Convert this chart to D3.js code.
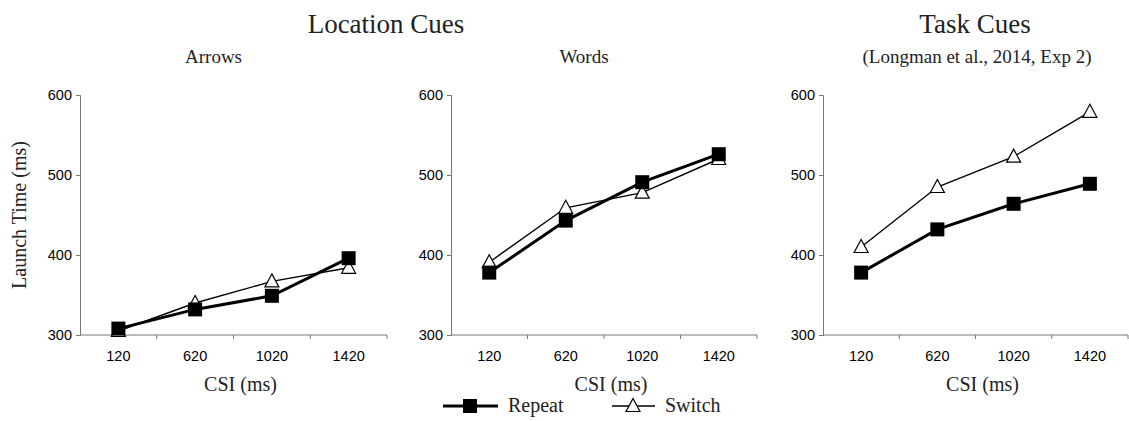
<!DOCTYPE html>
<html><head><meta charset="utf-8">
<script src="https://cdn.jsdelivr.net/npm/d3@7"></script>
<style>body{margin:0;background:#fff}</style>
</head><body>
<svg id="c" width="1129" height="421"></svg>
<script>
const categories = ["120","620","1020","1420"];
const yTicks = [300,400,500,600];
const panelNames = ["Arrows","Words","(Longman et al., 2014, Exp 2)"];
const arrowsRepeat = [308,332,349,396];
const arrowsSwitch = [305,340,367,384];
const wordsRepeat = [378,443,491,526];
const wordsSwitch = [391,459,478,520];
const taskRepeat = [378,432,464,489];
const taskSwitch = [410,485,523,579];
const seriesNames = ["Repeat","Switch"];

const panels = [
  {x0:80, x1:387, sub:panelNames[0], rep:arrowsRepeat, sw:arrowsSwitch},
  {x0:451, x1:757, sub:panelNames[1], rep:wordsRepeat, sw:wordsSwitch},
  {x0:823, x1:1128, sub:panelNames[2], rep:taskRepeat, sw:taskSwitch}
];
const svg = d3.select("#c");
const serif = "'Liberation Serif','Times New Roman',serif";
const sans = "'Liberation Sans',Arial,sans-serif";
const y = d3.scaleLinear().domain([300,600]).range([335,95]);

const triPath = "M0,-7.5L7,5.5L-7,5.5Z";

panels.forEach((p,i)=>{
  const x = d3.scaleBand().domain(categories).range([p.x0,p.x1]);
  const g = svg.append("g");
  // y axis
  const ya = g.append("g").attr("transform",`translate(${p.x0},0)`)
    .call(d3.axisLeft(y).tickValues(yTicks).tickSize(4).tickPadding(4));
  ya.attr("font-size",14.5).attr("font-family",sans);
  ya.select(".domain").attr("stroke","#777");
  ya.selectAll(".tick line").attr("stroke","#777");
  ya.selectAll("text").attr("fill","#000");
  // x axis
  const xa = g.append("g").attr("transform",`translate(0,${y(300)})`)
    .call(d3.axisBottom(x).tickSize(0).tickPadding(16));
  xa.attr("font-size",14.5).attr("font-family",sans);
  xa.select(".domain").attr("d",`M${p.x0},0H${p.x1}`).attr("stroke","#777");
  xa.selectAll("text").attr("fill","#000");
  // between-band ticks
  const bounds = categories.map(c=>x(c)).slice(1).concat([p.x1]);
  g.selectAll(".bt").data(bounds).enter().append("line")
    .attr("x1",d=>d).attr("x2",d=>d).attr("y1",y(300)).attr("y2",y(300)+4)
    .attr("stroke","#777");
  const cx = c=>x(c)+x.bandwidth()/2;
  const line = d3.line().x((d,j)=>cx(categories[j])).y(d=>y(d));
  // switch
  g.append("path").attr("d",line(p.sw)).attr("fill","none").attr("stroke","#000").attr("stroke-width",1.4);
  g.selectAll(".tri").data(p.sw).enter().append("path")
    .attr("d",triPath).attr("transform",(d,j)=>`translate(${cx(categories[j])},${y(d)})`)
    .attr("fill","#fff").attr("stroke","#000").attr("stroke-width",1.2);
  // repeat
  g.append("path").attr("d",line(p.rep)).attr("fill","none").attr("stroke","#000").attr("stroke-width",3);
  g.selectAll(".sq").data(p.rep).enter().append("rect")
    .attr("x",(d,j)=>cx(categories[j])-7).attr("y",d=>y(d)-7)
    .attr("width",14).attr("height",14).attr("fill","#000");
  // x title
  g.append("text").attr("x",(p.x0+p.x1)/2+7).attr("y",391).attr("text-anchor","middle")
    .attr("font-family",serif).attr("font-size",20).attr("fill","#222").text("CSI (ms)");
  // subtitle
  g.append("text").attr("x",i===2?977:(p.x0+p.x1)/2-20).attr("y",63).attr("text-anchor","middle")
    .attr("font-family",serif).attr("font-size",19).attr("fill","#222").text(p.sub);
});

// main titles
svg.append("text").attr("x",386).attr("y",33).attr("text-anchor","middle")
  .attr("font-family",serif).attr("font-size",27).attr("fill","#222").text("Location Cues");
svg.append("text").attr("x",975).attr("y",33).attr("text-anchor","middle")
  .attr("font-family",serif).attr("font-size",27).attr("fill","#222").text("Task Cues");
// y title
svg.append("text").attr("transform","translate(26,215) rotate(-90)").attr("text-anchor","middle")
  .attr("font-family",serif).attr("font-size",20).attr("fill","#222").text("Launch Time (ms)");

// legend
const lg = svg.append("g");
lg.append("line").attr("x1",443).attr("x2",498).attr("y1",406).attr("y2",406).attr("stroke","#000").attr("stroke-width",3);
lg.append("rect").attr("x",463).attr("y",399).attr("width",14).attr("height",14).attr("fill","#000");
lg.append("text").attr("x",508).attr("y",412).attr("font-family",serif).attr("font-size",20).attr("fill","#222").text(seriesNames[0]);
lg.append("line").attr("x1",612).attr("x2",655).attr("y1",406).attr("y2",406).attr("stroke","#000").attr("stroke-width",1.4);
lg.append("path").attr("d",triPath).attr("transform","translate(633,406)").attr("fill","#fff").attr("stroke","#000").attr("stroke-width",1.2);
lg.append("text").attr("x",665).attr("y",412).attr("font-family",serif).attr("font-size",20).attr("fill","#222").text(seriesNames[1]);
</script>
</body></html>
